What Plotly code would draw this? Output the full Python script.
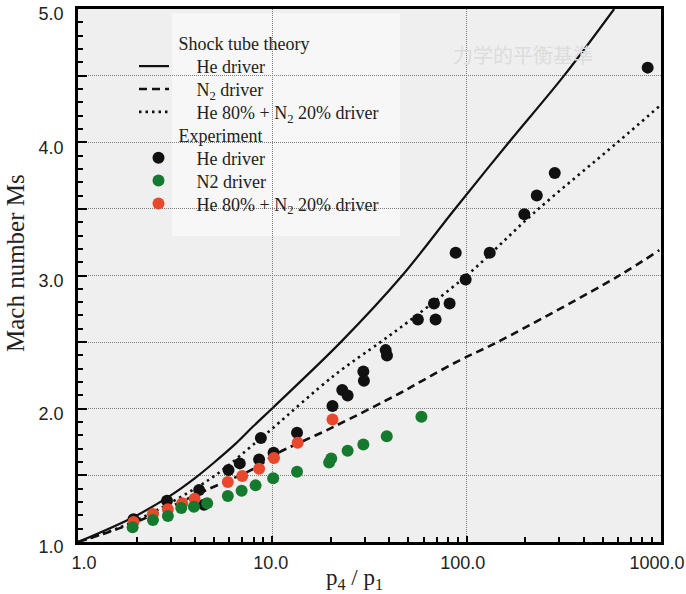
import plotly.graph_objects as go

# ---------------- data ----------------
# Shock tube theory curves  (x = p4/p1, y = Mach number Ms)
he_theory_x = [1.0, 1.95, 3.0, 4.0, 5.0, 6.5, 8.0, 10.1, 22.5, 46.6, 86, 165, 317, 574]
he_theory_y = [1.0, 1.19, 1.35, 1.48, 1.595, 1.74, 1.87, 2.01, 2.50, 3.0, 3.49, 4.0, 4.5, 5.0]

n2_theory_x = [1.0, 1.91, 4.75, 8.27, 10.15, 20.4, 45.8, 59, 91, 144, 610, 980]
n2_theory_y = [1.0, 1.14, 1.40, 1.56, 1.65, 1.86, 2.12, 2.21, 2.36, 2.50, 3.0, 3.19]

mix_theory_x = [1.0, 1.91, 4.75, 8.27, 10.15, 20.8, 36, 45.7, 100, 222, 598, 980]
mix_theory_y = [1.0, 1.15, 1.47, 1.75, 1.86, 2.25, 2.50, 2.61, 3.0, 3.47, 4.0, 4.27]

# Experiment
he_exp_x = [1.93, 2.87, 4.2, 4.45, 5.95, 6.8, 8.55, 8.73, 10.15, 13.4, 20.4, 22.9, 24.4,
            29.4, 29.6, 38.3, 38.9, 56.1, 67.9, 69.2, 81.7, 87.8, 98.8, 131.4, 198,
            229.5, 284, 854]
he_exp_y = [1.17, 1.31, 1.39, 1.28, 1.54, 1.59, 1.62, 1.78, 1.67, 1.82, 2.02, 2.14, 2.10,
            2.28, 2.21, 2.44, 2.40, 2.67, 2.79, 2.67, 2.79, 3.17, 2.97, 3.17, 3.46,
            3.60, 3.77, 4.56]

mix_exp_x = [1.93, 2.43, 2.9, 3.44, 3.98, 5.9, 7.0, 8.55, 10.2, 13.5, 20.4]
mix_exp_y = [1.15, 1.21, 1.245, 1.29, 1.325, 1.45, 1.495, 1.55, 1.63, 1.745, 1.92]

n2_exp_x = [1.91, 2.43, 2.9, 3.4, 3.95, 4.62, 5.9, 6.95, 8.2, 10.1, 13.4, 19.6, 20.1,
            24.4, 29.4, 38.8, 58.5]
n2_exp_y = [1.11, 1.165, 1.195, 1.255, 1.265, 1.29, 1.345, 1.385, 1.425, 1.478, 1.528,
            1.597, 1.627, 1.685, 1.732, 1.793, 1.94]

x_tickvals = [1, 10, 100, 1000]
x_ticktext = ["\u00a0\u00a0\u00a0\u00a01.0", "\u00a010.0", "100.0", "1000.0"]
x_minor_vals = [2, 3, 4, 5, 6, 7, 8, 9, 20, 30, 40, 50, 60, 70, 80, 90,
                200, 300, 400, 500, 600, 700, 800, 900]
y_tickvals = [1.0, 2.0, 3.0, 4.0, 5.0]
y_ticktext = ["1.0", "2.0", "3.0", "4.0", "5.0"]

# ---------------- styling ----------------
SERIF = "Liberation Serif, Times New Roman, serif"
SANS = "Liberation Sans, Arial, sans-serif"
NB = "\u00a0"
BLACK = "#111111"
GREEN = "#15792e"
RED = "#e8482b"
TXT = "#222222"
GRID = "#7c7c7c"

W, H = 686, 594
L, R, T, B = 78, 25, 9, 52
PW, PH = W - L - R, H - T - B


def px2paper_x(px):
    return (px - L) / PW


def px2paper_y(py):
    return (H - B - py) / PH


fig = go.Figure()

legend_rows = [43.5, 66.4, 89.3, 112.2, 135.1, 158.0, 180.9, 203.8]
legend_ids = ["legend"] + ["legend%d" % i for i in range(2, 9)]
legend_left = [134, 134, 134, 134, 134, 138.5, 138.5, 138.5]

# row 0: header
fig.add_trace(go.Scatter(x=[None], y=[None], mode="lines",
                         line=dict(width=0, color="rgba(0,0,0,0)"),
                         name=NB + "Shock tube theory", legend=legend_ids[0],
                         hoverinfo="skip"))
# rows 1-3: theory
fig.add_trace(go.Scatter(x=he_theory_x, y=he_theory_y, mode="lines",
                         line=dict(color=BLACK, width=2.2, shape="spline", smoothing=1.0),
                         name=NB * 5 + "He driver", legend=legend_ids[1]))
fig.add_trace(go.Scatter(x=n2_theory_x, y=n2_theory_y, mode="lines",
                         line=dict(color=BLACK, width=2.6, dash="8px,5px", shape="spline", smoothing=1.0),
                         name=NB * 5 + "N<sub>2</sub> driver", legend=legend_ids[2]))
fig.add_trace(go.Scatter(x=mix_theory_x, y=mix_theory_y, mode="lines",
                         line=dict(color=BLACK, width=2.6, dash="2.5px,4px", shape="spline", smoothing=1.0),
                         name=NB * 5 + "He 80% + N<sub>2</sub> 20% driver", legend=legend_ids[3]))
# row 4: header
fig.add_trace(go.Scatter(x=[None], y=[None], mode="lines",
                         line=dict(width=0, color="rgba(0,0,0,0)"),
                         name=NB + "Experiment", legend=legend_ids[4], hoverinfo="skip"))
# rows 5-7: experiment (drawn black, red, green)
fig.add_trace(go.Scatter(x=he_exp_x, y=he_exp_y, mode="markers",
                         marker=dict(color=BLACK, size=12, line=dict(width=0)),
                         name=NB * 4 + "He driver", legend=legend_ids[5]))
fig.add_trace(go.Scatter(x=mix_exp_x, y=mix_exp_y, mode="markers",
                         marker=dict(color=RED, size=12, line=dict(width=0)),
                         name=NB * 4 + "He 80% + N<sub>2</sub> 20% driver", legend=legend_ids[7]))
fig.add_trace(go.Scatter(x=n2_exp_x, y=n2_exp_y, mode="markers",
                         marker=dict(color=GREEN, size=12, line=dict(width=0)),
                         name=NB * 4 + "N2 driver", legend=legend_ids[6]))

# invisible helper trace for the overlaid axis carrying the 0.5 grid and 0.5 ticks
fig.add_trace(go.Scatter(x=[None], y=[None], yaxis="y2", showlegend=False,
                         hoverinfo="skip", mode="lines"))

layout_legends = {}
for lid, row, left in zip(legend_ids, legend_rows, legend_left):
    layout_legends[lid] = dict(
        x=px2paper_x(left), y=px2paper_y(row), xanchor="left", yanchor="middle",
        bgcolor="rgba(0,0,0,0)", borderwidth=0,
        font=dict(family=SERIF, size=18, color=TXT), itemwidth=30,
    )

fig.update_layout(
    width=W, height=H,
    margin=dict(l=L, r=R, t=T, b=B, pad=0, autoexpand=False),
    paper_bgcolor="#ffffff",
    plot_bgcolor="#efefef",
    showlegend=True,
    font=dict(family=SERIF, color=TXT),
    **layout_legends,
)

fig.update_layout(
    xaxis=dict(
        type="log", range=[0, 3], automargin=False,
        tickmode="array", tickvals=x_tickvals, ticktext=x_ticktext,
        tickfont=dict(family=SANS, size=18, color=TXT),
        ticks="inside", ticklen=6, tickwidth=1.5, tickcolor="black",
        ticklabelstandoff=3, ticklabelshift=-4, ticklabeloverflow="allow",
        minor=dict(tickmode="array", tickvals=x_minor_vals, ticks="inside",
                   ticklen=5, tickwidth=1.5, tickcolor="black", showgrid=False),
        showgrid=True, gridcolor=GRID, gridwidth=1, griddash="1px,1px",
        showline=True, linecolor="black", linewidth=2.5, mirror=True,
        zeroline=False,
    ),
    yaxis=dict(
        range=[1.0, 5.0], automargin=False,
        tickmode="array", tickvals=y_tickvals, ticktext=y_ticktext,
        tickfont=dict(family=SANS, size=18, color=TXT),
        ticks="inside", ticklen=9, tickwidth=1.5, tickcolor="black",
        ticklabelstandoff=8, ticklabelshift=5, ticklabeloverflow="allow",
        minor=dict(dtick=0.1, ticks="inside", ticklen=5, tickwidth=1.5,
                   tickcolor="black", showgrid=False),
        showgrid=False,
        showline=True, linecolor="black", linewidth=2.5, mirror=True,
        zeroline=False,
    ),
    yaxis2=dict(
        range=[1.0, 5.0], overlaying="y", side="left", anchor="x", automargin=False,
        tick0=1.0, dtick=0.5, ticks="inside", ticklen=9, tickwidth=1.5,
        tickcolor="black", showticklabels=False,
        showgrid=True, gridcolor=GRID, gridwidth=1, griddash="1px,1px",
        showline=False, zeroline=False,
    ),
)

# lighter legend panel (covers the gridlines behind the legend text)
fig.add_shape(type="rect", xref="paper", yref="paper",
              x0=px2paper_x(172), x1=px2paper_x(400),
              y0=px2paper_y(236), y1=px2paper_y(13),
              fillcolor="#f7f7f7", line=dict(width=0), layer="between")

# axis titles
fig.add_annotation(text="p<sub>4</sub> / p<sub>1</sub>", xref="paper", yref="paper",
                   x=px2paper_x(354), y=px2paper_y(579), xanchor="center", yanchor="middle",
                   showarrow=False, font=dict(family=SERIF, size=23, color=TXT))
fig.add_annotation(text="Mach number Ms", xref="paper", yref="paper",
                   x=px2paper_x(15), y=px2paper_y(263), xanchor="center", yanchor="middle",
                   textangle=-90, showarrow=False,
                   font=dict(family=SERIF, size=25, color=TXT))
# faint bleed-through text of the scanned page
fig.add_annotation(text="力学的平衡基準", xref="paper", yref="paper",
                   x=px2paper_x(523), y=px2paper_y(54), xanchor="center", yanchor="middle",
                   showarrow=False,
                   font=dict(family="Noto Sans CJK JP", size=20, color="#dcdcdc"))

fig.write_html("out.html")
